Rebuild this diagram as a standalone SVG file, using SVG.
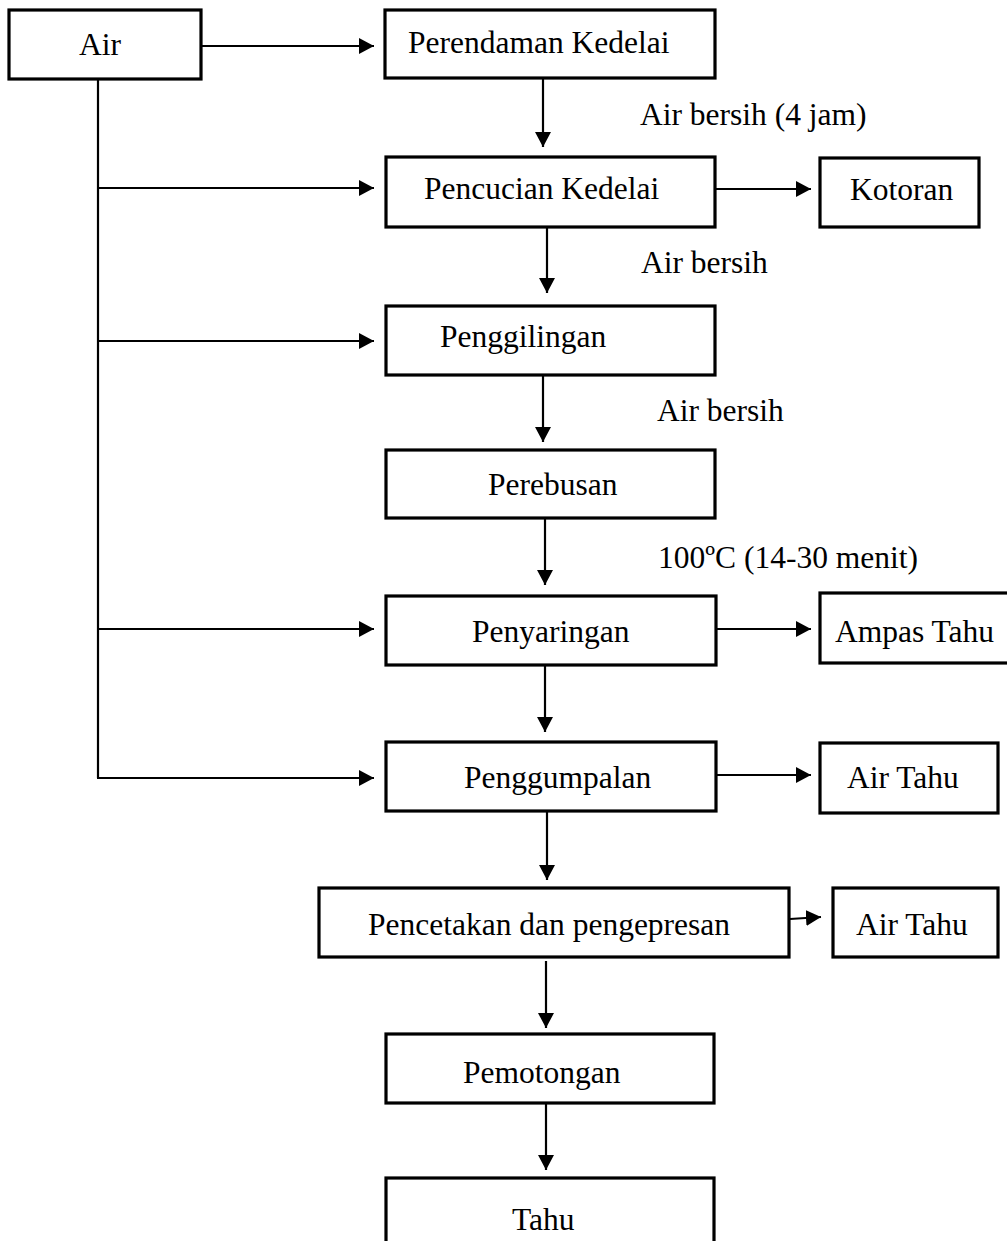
<svg xmlns="http://www.w3.org/2000/svg" width="1007" height="1241" viewBox="0 0 1007 1241">
<style>
.box{fill:#fff;stroke:#000;stroke-width:3.2}
.t{font-family:"Liberation Serif","Times New Roman",serif;font-size:31.5px;fill:#000}
.c{stroke:#000;stroke-width:2.2;fill:none}
.a{marker-end:url(#ah)}
</style>
<defs>
<marker id="ah" markerUnits="userSpaceOnUse" markerWidth="15" markerHeight="16" refX="15" refY="8" orient="auto">
<path d="M0,0 L15,8 L0,16 z" fill="#000"/>
</marker>
</defs>
<g id="connectors">
<line class="c a" x1="202" y1="46" x2="374" y2="46"/>
<line class="c" x1="98" y1="79" x2="98" y2="778"/>
<line class="c a" x1="98" y1="188" x2="374" y2="188"/>
<line class="c a" x1="98" y1="341" x2="374" y2="341"/>
<line class="c a" x1="98" y1="629" x2="374" y2="629"/>
<line class="c a" x1="97" y1="778" x2="374" y2="778"/>
<line class="c a" x1="543" y1="78" x2="543" y2="147"/>
<line class="c a" x1="716" y1="189" x2="811" y2="189"/>
<line class="c a" x1="547" y1="227" x2="547" y2="293"/>
<line class="c a" x1="543" y1="375" x2="543" y2="442"/>
<line class="c a" x1="545" y1="518" x2="545" y2="585"/>
<line class="c a" x1="716" y1="629" x2="811" y2="629"/>
<line class="c a" x1="545" y1="665" x2="545" y2="732"/>
<line class="c a" x1="716" y1="775" x2="811" y2="775"/>
<line class="c a" x1="547" y1="811" x2="547" y2="880"/>
<line class="c a" x1="790" y1="919" x2="821" y2="917"/>
<line class="c a" x1="546" y1="961" x2="546" y2="1028"/>
<line class="c a" x1="546" y1="1103" x2="546" y2="1170"/>
</g>
<g id="labels">
<text class="t" x="640" y="125">Air bersih (4 jam)</text>
<text class="t" x="641" y="273">Air bersih</text>
<text class="t" x="657" y="421">Air bersih</text>
<text class="t" x="658" y="568">100ºC (14-30 menit)</text>
</g>
<g id="n-air"><rect class="box" x="9" y="10" width="192" height="69"/><text class="t" x="79" y="55">Air</text></g>
<g id="n-perendaman"><rect class="box" x="385" y="10" width="330" height="68"/><text class="t" x="408" y="53">Perendaman Kedelai</text></g>
<g id="n-pencucian"><rect class="box" x="386" y="157" width="329" height="70"/><text class="t" x="424" y="199">Pencucian Kedelai</text></g>
<g id="n-kotoran"><rect class="box" x="820" y="158" width="159" height="69"/><text class="t" x="850" y="200">Kotoran</text></g>
<g id="n-penggilingan"><rect class="box" x="386" y="306" width="329" height="69"/><text class="t" x="440" y="347">Penggilingan</text></g>
<g id="n-perebusan"><rect class="box" x="386" y="450" width="329" height="68"/><text class="t" x="488" y="495">Perebusan</text></g>
<g id="n-penyaringan"><rect class="box" x="386" y="596" width="330" height="69"/><text class="t" x="472" y="642">Penyaringan</text></g>
<g id="n-ampas"><rect class="box" x="820" y="593" width="195" height="70"/><text class="t" x="835" y="642">Ampas Tahu</text></g>
<g id="n-penggumpalan"><rect class="box" x="386" y="742" width="330" height="69"/><text class="t" x="464" y="788">Penggumpalan</text></g>
<g id="n-airtahu1"><rect class="box" x="820" y="743" width="178" height="70"/><text class="t" x="847" y="788">Air Tahu</text></g>
<g id="n-pencetakan"><rect class="box" x="319" y="888" width="470" height="69"/><text class="t" x="368" y="935">Pencetakan dan pengepresan</text></g>
<g id="n-airtahu2"><rect class="box" x="833" y="888" width="165" height="69"/><text class="t" x="856" y="935">Air Tahu</text></g>
<g id="n-pemotongan"><rect class="box" x="386" y="1034" width="328" height="69"/><text class="t" x="463" y="1083">Pemotongan</text></g>
<g id="n-tahu"><rect class="box" x="386" y="1178" width="328" height="80"/><text class="t" x="512" y="1230">Tahu</text></g>
</svg>
